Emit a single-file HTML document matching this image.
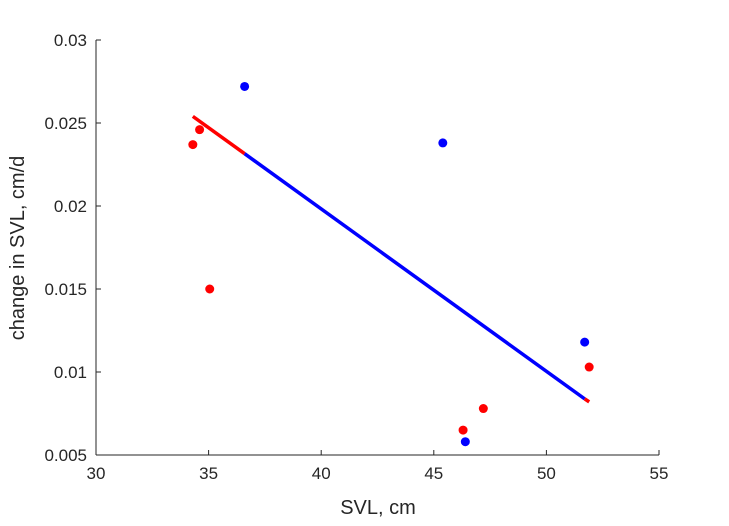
<!DOCTYPE html>
<html><head><meta charset="utf-8"><style>
body{margin:0;background:#fff;}
svg text{font-family:"Liberation Sans",sans-serif;fill:#262626;}
</style></head><body>
<svg id="chart" width="729" height="521" xmlns="http://www.w3.org/2000/svg">
<rect width="729" height="521" fill="#fff"/>
<g id="axes"></g>
<g id="marks"></g>
<text x="378" y="514" font-size="20" text-anchor="middle">SVL, cm</text>
<text transform="translate(24,248) rotate(-90)" font-size="20" text-anchor="middle">change in SVL, cm/d</text>
</svg>
<script>
const xTicks=[30,35,40,45,50,55];
const yTicks=[0.005,0.01,0.015,0.02,0.025,0.03];
const yTickLabels=["0.005","0.01","0.015","0.02","0.025","0.03"];
const blueX=[36.6,45.4,51.7,46.4];
const blueY=[0.0272,0.0238,0.0118,0.0058];
const redX=[34.3,34.6,35.05,46.3,47.2,51.9];
const redY=[0.0237,0.0246,0.0150,0.0065,0.0078,0.0103];
const fitX=[34.3,36.6,51.7,51.9];
const fitY=[0.0254,0.02315,0.00838,0.0082];
const fitColors=["red","blue","red"];
const X0=96,X1=659,Y0=455,Y1=40;
const sx=v=>X0+(v-30)/(55-30)*(X1-X0);
const sy=v=>Y0-(v-0.005)/(0.03-0.005)*(Y0-Y1);
const NS="http://www.w3.org/2000/svg";
const axes=document.getElementById('axes'),marks=document.getElementById('marks');
function mk(tag,attrs,parent){const e=document.createElementNS(NS,tag);for(const k in attrs)e.setAttribute(k,attrs[k]);parent.appendChild(e);return e;}
let ax=mk('line',{x1:X0,y1:Y0,x2:X1,y2:Y0,stroke:'#262626'},axes);


let ay=mk('line',{x1:X0,y1:Y0,x2:X0,y2:Y1,stroke:'#262626'},axes);


xTicks.forEach(t=>{
 mk('line',{x1:sx(t),y1:Y0,x2:sx(t),y2:Y0-5,stroke:'#262626'},axes);
 const tx=mk('text',{x:sx(t),y:Y0+24,'font-size':17,'text-anchor':'middle'},axes);
 tx.textContent=t;
 
 
});
yTicks.forEach((t,i)=>{
 mk('line',{x1:X0,y1:sy(t),x2:X0+5,y2:sy(t),stroke:'#262626'},axes);
 const tx=mk('text',{x:X0-9,y:sy(t)+6,'font-size':17,'text-anchor':'end'},axes);
 tx.textContent=yTickLabels[i];
 
 
});
for(let i=0;i<fitX.length-1;i++){
 const l=mk('line',{x1:sx(fitX[i]),y1:sy(fitY[i]),x2:sx(fitX[i+1]),y2:sy(fitY[i+1]),stroke:fitColors[i],'stroke-width':3.5},marks);
 
 
}
blueX.forEach((x,i)=>{
 const c=mk('circle',{cx:sx(x),cy:sy(blueY[i]),r:4.5,fill:'blue'},marks);
 
 
});
redX.forEach((x,i)=>{
 const c=mk('circle',{cx:sx(x),cy:sy(redY[i]),r:4.5,fill:'red'},marks);
 
 
});
</script>
</body></html>
